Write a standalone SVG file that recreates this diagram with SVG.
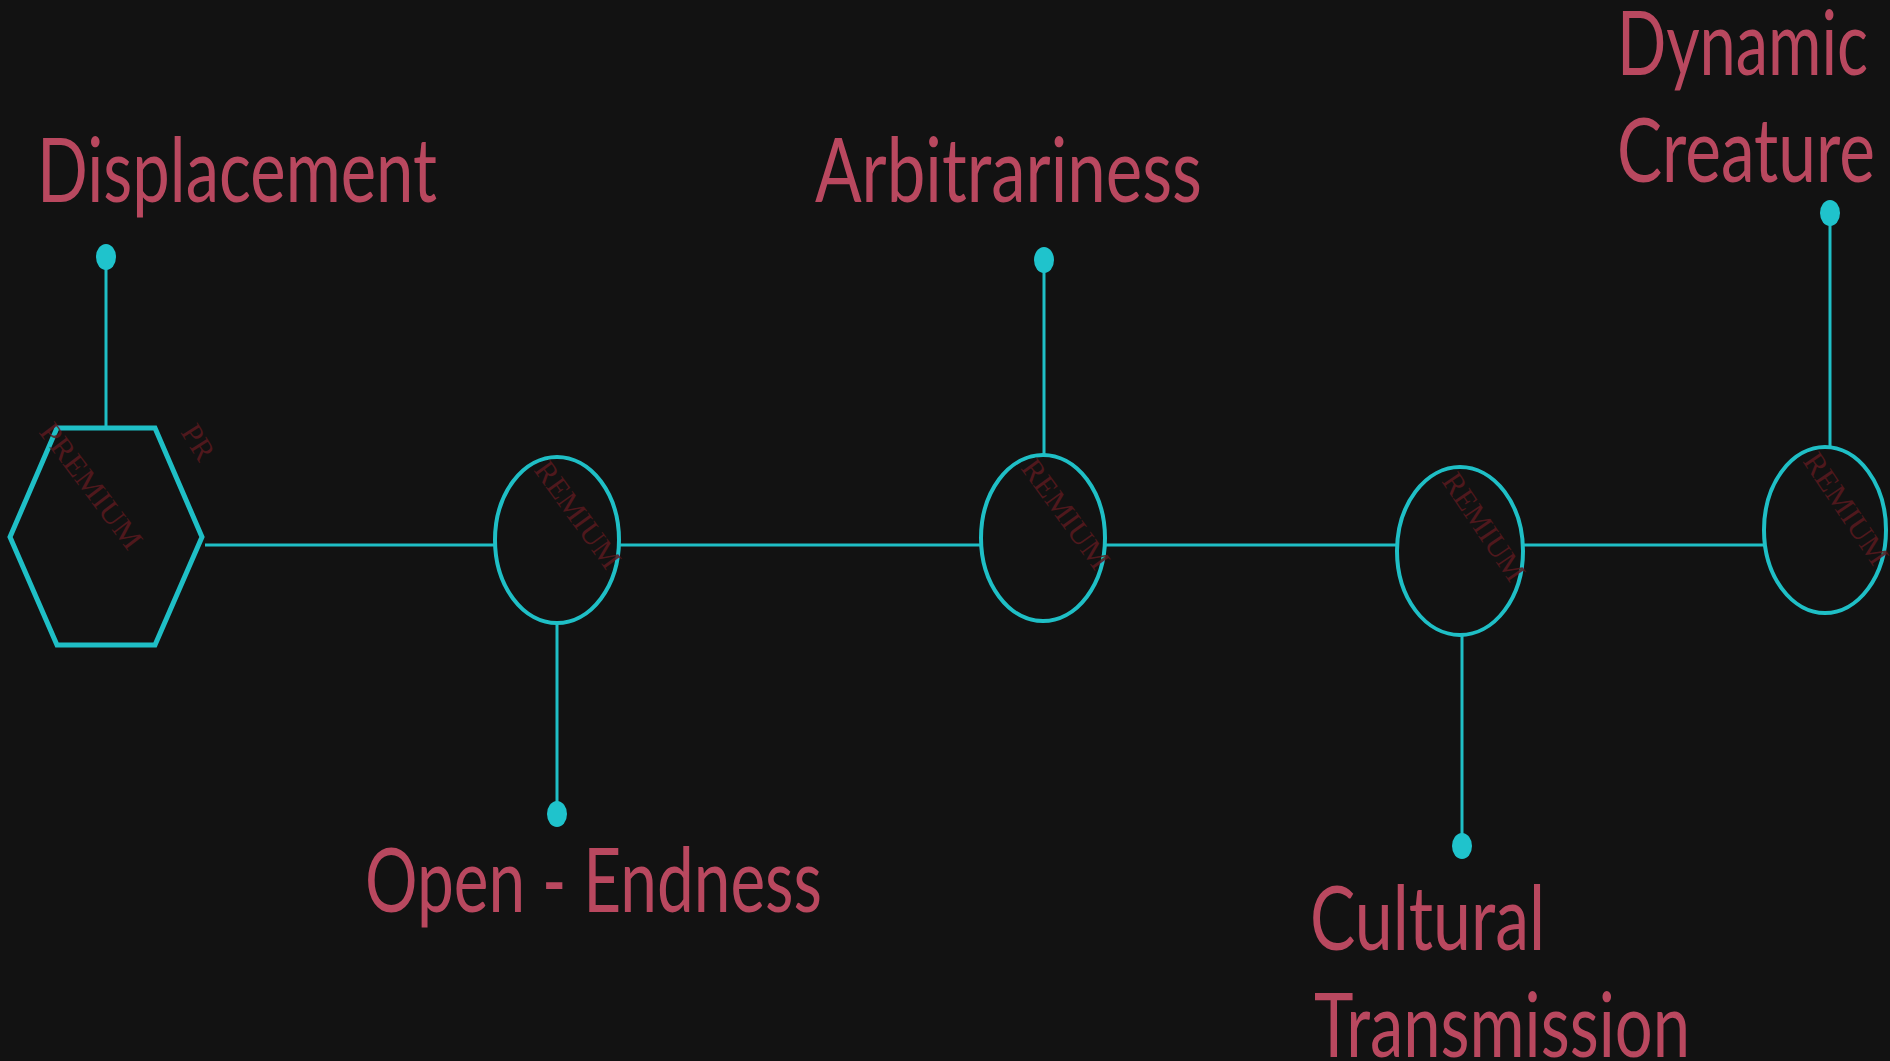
<svg xmlns="http://www.w3.org/2000/svg" width="1890" height="1061" viewBox="0 0 1890 1061">
<style>
.bg{fill:#121212}
.shape{fill:none;stroke:#1fbfc6;stroke-width:4}
.hex{fill:none;stroke:#1fbfc6;stroke-width:5;stroke-linejoin:miter}
.con{stroke:#1fbfc6;stroke-width:3;fill:none}
.dot{fill:#1fc3cc}
.lbl{font-family:Lato,"Noto Sans",sans-serif;font-size:89px;fill:#b9485f}
.wm{font-family:"Liberation Serif",serif;font-size:30px;fill:#5a1a1f;opacity:0.85}
</style>
<rect class="bg" x="0" y="0" width="1890" height="1061"/>
<g id="connectors">
<line class="con" x1="205" y1="545" x2="495" y2="545"/>
<line class="con" x1="619" y1="545" x2="981" y2="545"/>
<line class="con" x1="1105" y1="545" x2="1397" y2="545"/>
<line class="con" x1="1523" y1="545" x2="1764" y2="545"/>
<line class="con" x1="106" y1="257" x2="106" y2="428"/>
<line class="con" x1="1044" y1="260" x2="1044" y2="455"/>
<line class="con" x1="557" y1="622" x2="557" y2="814"/>
<line class="con" x1="1462" y1="635" x2="1462" y2="846"/>
<line class="con" x1="1830" y1="213" x2="1830" y2="447"/>
</g>
<g id="node-displacement">
<polygon class="hex" points="10,537 57,428 155,428 202,537 155,645 57,645"/>
<text class="wm" x="38" y="432" transform="rotate(53 38 432)" textLength="150" lengthAdjust="spacingAndGlyphs">PREMIUM</text>
<text class="wm" x="180" y="432" transform="rotate(58 180 432)">PR</text>
<ellipse class="dot" cx="106" cy="257" rx="10" ry="13"/>
<text class="lbl" x="37" y="202" textLength="400" lengthAdjust="spacingAndGlyphs">Displacement</text>
</g>
<g id="node-open-endness">
<ellipse class="shape" cx="557" cy="540" rx="62" ry="83"/>
<text class="wm" x="533" y="470" transform="rotate(54 533 470)" textLength="125" lengthAdjust="spacingAndGlyphs">REMIUM</text>
<ellipse class="dot" cx="557" cy="814" rx="10" ry="13"/>
<text class="lbl" x="365" y="912" textLength="457" lengthAdjust="spacingAndGlyphs">Open - Endness</text>
</g>
<g id="node-arbitrariness">
<ellipse class="shape" cx="1043" cy="538" rx="62" ry="83"/>
<text class="wm" x="1020" y="468" transform="rotate(54 1020 468)" textLength="128" lengthAdjust="spacingAndGlyphs">REMIUM</text>
<ellipse class="dot" cx="1044" cy="260" rx="10" ry="13"/>
<text class="lbl" x="815" y="202" textLength="387" lengthAdjust="spacingAndGlyphs">Arbitrariness</text>
</g>
<g id="node-cultural-transmission">
<ellipse class="shape" cx="1460" cy="551" rx="63" ry="84"/>
<text class="wm" x="1441" y="481" transform="rotate(56 1441 481)" textLength="124" lengthAdjust="spacingAndGlyphs">REMIUM</text>
<ellipse class="dot" cx="1462" cy="846" rx="10" ry="13"/>
<text class="lbl" x="1310" y="950" textLength="235" lengthAdjust="spacingAndGlyphs">Cultural</text>
<text class="lbl" x="1314" y="1057" textLength="376" lengthAdjust="spacingAndGlyphs">Transmission</text>
</g>
<g id="node-dynamic-creature">
<ellipse class="shape" cx="1825" cy="530" rx="61" ry="83"/>
<text class="wm" x="1802" y="461" transform="rotate(56 1802 461)" textLength="128" lengthAdjust="spacingAndGlyphs">REMIUM</text>
<ellipse class="dot" cx="1830" cy="213" rx="10" ry="13"/>
<text class="lbl" x="1617" y="75" textLength="251" lengthAdjust="spacingAndGlyphs">Dynamic</text>
<text class="lbl" x="1617" y="182" textLength="258" lengthAdjust="spacingAndGlyphs">Creature</text>
</g>
</svg>
